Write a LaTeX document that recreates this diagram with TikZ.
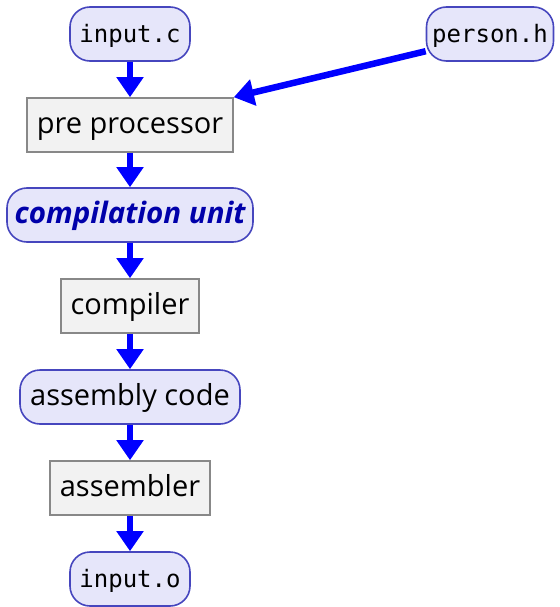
\documentclass[tikz,border=0pt]{standalone}
\usepackage{fontspec}
\setmainfont{Open Sans}
\setmonofont{DejaVu Sans Mono}
\usetikzlibrary{arrows.meta}
\definecolor{filebg}{HTML}{E6E6FA}
\definecolor{fileborder}{HTML}{4646BE}
\definecolor{procbg}{HTML}{F2F2F2}
\definecolor{procborder}{HTML}{888888}
\definecolor{unittext}{HTML}{0000AA}
\tikzset{
  basenode/.style={line width=1.6pt, minimum height=54pt, inner sep=0pt,
    text height=23pt, text depth=6pt},
  filenode/.style={basenode, draw=fileborder, fill=filebg, rounded corners=20pt,
    font=\fontsize{24}{27}\selectfont\ttfamily},
  datanode/.style={basenode, draw=fileborder, fill=filebg, rounded corners=20pt,
    font=\fontsize{29}{32}\selectfont},
  procnode/.style={basenode, draw=procborder, fill=procbg,
    font=\fontsize{29}{32}\selectfont},
  flow/.style={draw=blue, line width=6.5pt, -{Triangle[length=20pt,width=26pt]}}
}
\begin{document}
\begin{tikzpicture}[x=1pt,y=-1pt]
\useasboundingbox (0,0) rectangle (559,607);
\node[filenode, minimum width=120pt] (inc) at (130,34) {input.c};
\node[filenode, minimum width=127pt] (per) at (490,34) {person.h};
\node[procnode, minimum width=206pt] (pre) at (130,125) {pre processor};
\node[datanode, minimum width=246pt, text=unittext, font=\fontsize{29.5}{32}\selectfont\bfseries\itshape] (cu) at (130,215) {compilation unit};
\node[procnode, minimum width=138pt] (comp) at (130,306) {compiler};
\node[datanode, minimum width=220pt] (asm) at (130,397) {assembly code};
\node[procnode, minimum width=160pt] (asmr) at (130,488) {assembler};
\node[filenode, minimum width=120pt] (out) at (130,579) {input.o};
\draw[flow] (inc) -- (pre);
\draw[flow] (per.195) -- (pre.north east);
\draw[flow] (pre) -- (cu);
\draw[flow] (cu) -- (comp);
\draw[flow] (comp) -- (asm);
\draw[flow] (asm) -- (asmr);
\draw[flow] (asmr) -- (out);
\end{tikzpicture}
\end{document}
